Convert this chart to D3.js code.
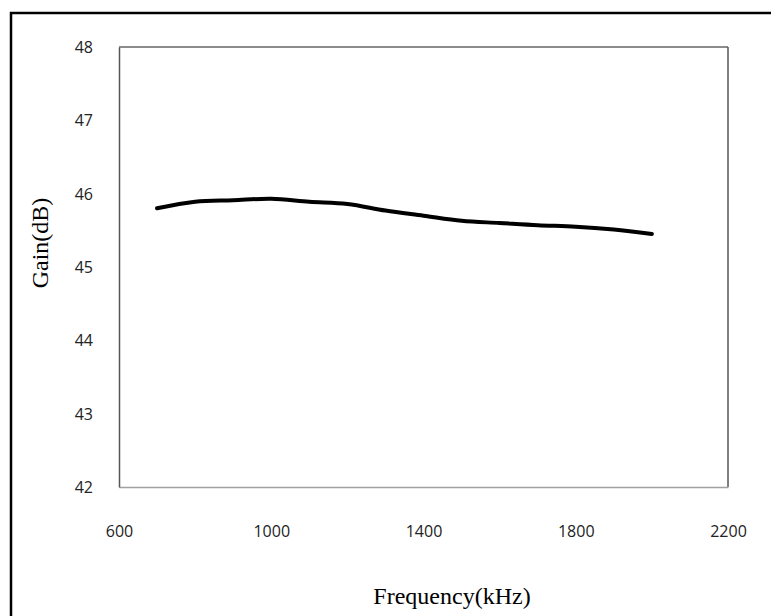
<!DOCTYPE html>
<html>
<head>
<meta charset="utf-8">
<script src="https://cdn.jsdelivr.net/npm/d3@7"></script>
<style>
  html, body { margin: 0; padding: 0; background: #fff; }
  svg { display: block; }
</style>
</head>
<body>
<svg id="chart" width="771" height="616"></svg>
<script>
// Amplifier gain measured across the frequency band
const frequencies = [700, 800, 900, 1000, 1100, 1200, 1300, 1400, 1500, 1600, 1700, 1800, 1900, 2000];
const gains = [45.80, 45.89, 45.91, 45.93, 45.89, 45.86, 45.77, 45.70, 45.63, 45.60, 45.57, 45.55, 45.51, 45.45];
const xTicks = [600, 1000, 1400, 1800, 2200];
const yTicks = [42, 43, 44, 45, 46, 47, 48];

const svg = d3.select("#chart");

// Outer frame around the whole figure
svg.append("rect")
  .attr("x", 11).attr("y", 13)
  .attr("width", 900).attr("height", 800)
  .attr("fill", "none").attr("stroke", "#000").attr("stroke-width", 2.5);

const plot = { left: 119, top: 47, right: 728, bottom: 487 };

const x = d3.scaleLinear().domain([600, 2200]).range([plot.left, plot.right]);
const y = d3.scaleLinear().domain([42, 48]).range([plot.bottom, plot.top]);

// Plot area box
svg.append("line").attr("x1", plot.left).attr("x2", plot.right).attr("y1", plot.top).attr("y2", plot.top)
  .attr("stroke", "#666").attr("stroke-width", 1.5);
svg.append("line").attr("x1", plot.right).attr("x2", plot.right).attr("y1", plot.top).attr("y2", plot.bottom)
  .attr("stroke", "#555").attr("stroke-width", 1.5);

// Axes (no tick marks, labels only)
const xAxis = d3.axisBottom(x).tickValues(xTicks).tickSize(0).tickPadding(0).tickFormat(d3.format("d"));
const yAxis = d3.axisLeft(y).tickValues(yTicks).tickSize(0).tickPadding(0).tickFormat(d3.format("d"));

const gx = svg.append("g").attr("transform", `translate(0,${plot.bottom})`).call(xAxis);
gx.select(".domain").attr("stroke", "#a0a0a0").attr("stroke-width", 1.5);
gx.selectAll("text")
  .attr("y", 50).attr("dy", 0)
  .attr("font-family", "'Open Sans', sans-serif").attr("font-size", 16).attr("fill", "#222");

const gy = svg.append("g").attr("transform", `translate(${plot.left},0)`).call(yAxis);
gy.select(".domain").attr("stroke", "#555").attr("stroke-width", 1.5);
gy.selectAll("text")
  .attr("x", -26).attr("dy", "0.35em")
  .attr("font-family", "'Open Sans', sans-serif").attr("font-size", 16).attr("fill", "#222");

// Gain curve
const line = d3.line()
  .x((d, i) => x(frequencies[i]))
  .y(d => y(d))
  .curve(d3.curveCatmullRom.alpha(0.5));

svg.append("path")
  .datum(gains)
  .attr("d", line)
  .attr("fill", "none")
  .attr("stroke", "#000")
  .attr("stroke-width", 4)
  .attr("stroke-linecap", "round")
  .attr("stroke-linejoin", "round");

// Axis titles
svg.append("text")
  .attr("x", 452).attr("y", 604)
  .attr("text-anchor", "middle")
  .attr("font-family", "'Liberation Serif', 'Times New Roman', serif")
  .attr("font-size", 24)
  .text("Frequency(kHz)");

svg.append("text")
  .attr("transform", "translate(48,243) rotate(-90)")
  .attr("text-anchor", "middle")
  .attr("font-family", "'Liberation Serif', 'Times New Roman', serif")
  .attr("font-size", 24)
  .text("Gain(dB)");
</script>
</body>
</html>
